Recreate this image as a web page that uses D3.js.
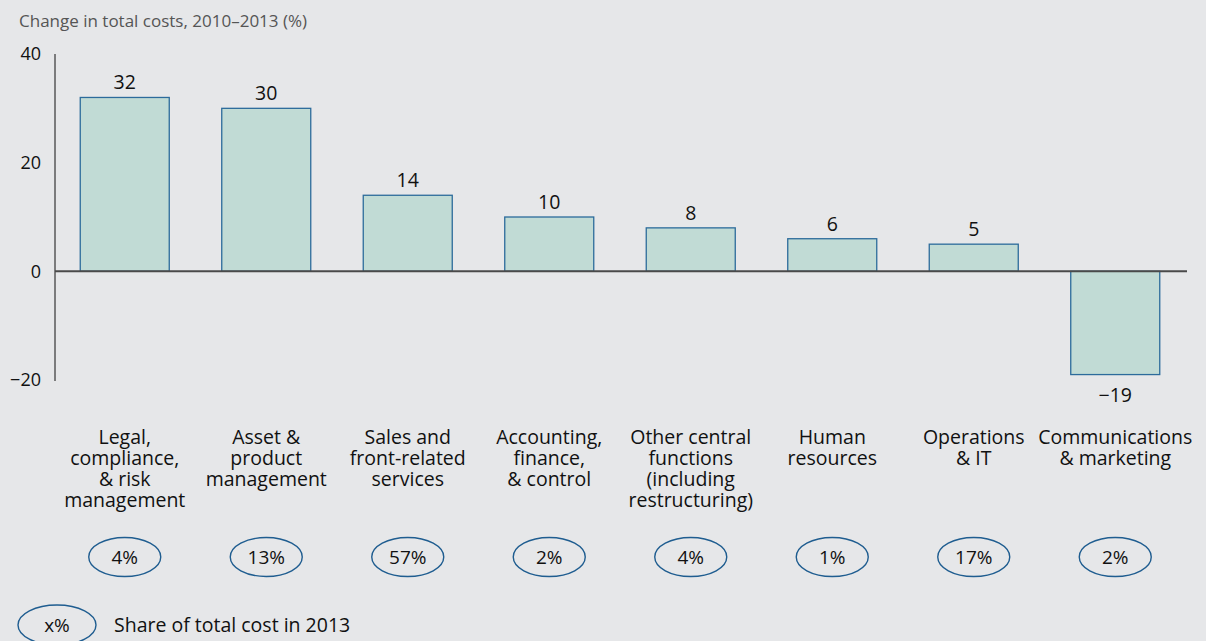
<!DOCTYPE html>
<html>
<head>
<meta charset="utf-8">
<script src="https://cdn.jsdelivr.net/npm/d3@7"></script>
<style>
  body { margin: 0; background: #e6e7e9; }
  svg { display: block; font-family: "Open Sans", sans-serif; }
</style>
</head>
<body>
<script>
const categories = [
  ['Legal,', 'compliance,', '& risk', 'management'],
  ['Asset &', 'product', 'management'],
  ['Sales and', 'front-related', 'services'],
  ['Accounting,', 'finance,', '& control'],
  ['Other central', 'functions', '(including', 'restructuring)'],
  ['Human', 'resources'],
  ['Operations', '& IT'],
  ['Communications', '& marketing']
]
const values = [32, 30, 14, 10, 8, 6, 5, -19]
const shares = ['4%', '13%', '57%', '2%', '4%', '1%', '17%', '2%']
const yTicks = [40, 20, 0, -20]

const w = 1206
const h = 641

const svg = d3.select('body')
              .append('svg')
              .attr('width', w)
              .attr('height', h)

svg.append('rect')
   .attr('width', w)
   .attr('height', h)
   .attr('fill', '#e6e7e9')

const xScale = d3.scaleBand()
                 .domain(d3.range(values.length))
                 .range([54, 1186])
                 .paddingInner(0.371)
                 .paddingOuter(0.1855)

const yScale = d3.scaleLinear()
                 .domain([-20, 40])
                 .range([380, 54])

const fmt = v => v < 0 ? '\u2212' + Math.abs(v) : String(v)

// title
svg.append('text')
   .attr('x', 19)
   .attr('y', 27)
   .attr('font-size', 17)
   .attr('fill', '#555')
   .text('Change in total costs, 2010\u20132013 (%)')

// y axis
const yAxis = d3.axisLeft(yScale)
                .tickValues(yTicks)
                .tickSize(0)
                .tickPadding(14)
                .tickFormat(fmt)

const gy = svg.append('g')
   .attr('transform', 'translate(55,0)')
   .call(yAxis)
gy.select('.domain')
  .attr('stroke', '#111')
  .attr('d', 'M0,' + yScale(40) + 'V' + (yScale(-20) + 1))
gy.selectAll('text')
  .attr('font-size', 18)
  .attr('fill', '#111')
  .attr('font-family', '"Open Sans", sans-serif')

// bars
svg.selectAll('rect.bar')
   .data(values)
   .enter()
   .append('rect')
   .attr('class', 'bar')
   .attr('x', (d, i) => xScale(i))
   .attr('y', d => yScale(Math.max(0, d)))
   .attr('width', xScale.bandwidth())
   .attr('height', d => Math.abs(yScale(d) - yScale(0)))
   .attr('fill', '#c1dbd5')
   .attr('stroke', '#2c6b9b')
   .attr('stroke-width', 1.3)

// zero line
svg.append('line')
   .attr('x1', 55)
   .attr('x2', 1187)
   .attr('y1', yScale(0))
   .attr('y2', yScale(0))
   .attr('stroke', '#4a4a4a')
   .attr('stroke-width', 2)

// value labels
svg.selectAll('text.val')
   .data(values)
   .enter()
   .append('text')
   .attr('class', 'val')
   .attr('x', (d, i) => xScale(i) + xScale.bandwidth() / 2)
   .attr('y', d => d >= 0 ? yScale(d) - 8 : yScale(d) + 27)
   .attr('text-anchor', 'middle')
   .attr('font-size', 19.5)
   .attr('fill', '#111')
   .text(fmt)

// category labels
const cat = svg.selectAll('text.cat')
   .data(categories)
   .enter()
   .append('text')
   .attr('class', 'cat')
   .attr('text-anchor', 'middle')
   .attr('font-size', 19.5)
   .attr('fill', '#111')

cat.selectAll('tspan')
   .data((d, i) => d.map(line => ({line, i})))
   .enter()
   .append('tspan')
   .attr('x', d => xScale(d.i) + xScale.bandwidth() / 2)
   .attr('y', (d, j) => 444 + j * 21)
   .text(d => d.line)

// share ellipses
const share = svg.selectAll('g.share')
   .data(shares)
   .enter()
   .append('g')
   .attr('class', 'share')
   .attr('transform', (d, i) => 'translate(' + (xScale(i) + xScale.bandwidth() / 2) + ',557)')

share.append('ellipse')
   .attr('rx', 36)
   .attr('ry', 19.5)
   .attr('fill', 'none')
   .attr('stroke', '#1f5d90')
   .attr('stroke-width', 1.4)

share.append('text')
   .attr('y', 7)
   .attr('text-anchor', 'middle')
   .attr('font-size', 19)
   .attr('fill', '#111')
   .text(d => d)

// legend
const legend = svg.append('g')
   .attr('transform', 'translate(57,625)')
legend.append('ellipse')
   .attr('rx', 39)
   .attr('ry', 20)
   .attr('fill', 'none')
   .attr('stroke', '#1f5d90')
   .attr('stroke-width', 1.4)
legend.append('text')
   .attr('y', 7)
   .attr('text-anchor', 'middle')
   .attr('font-size', 19)
   .attr('fill', '#111')
   .text('x%')
legend.append('text')
   .attr('x', 57)
   .attr('y', 7)
   .attr('font-size', 19.5)
   .attr('fill', '#111')
   .text('Share of total cost in 2013')
</script>
</body>
</html>
